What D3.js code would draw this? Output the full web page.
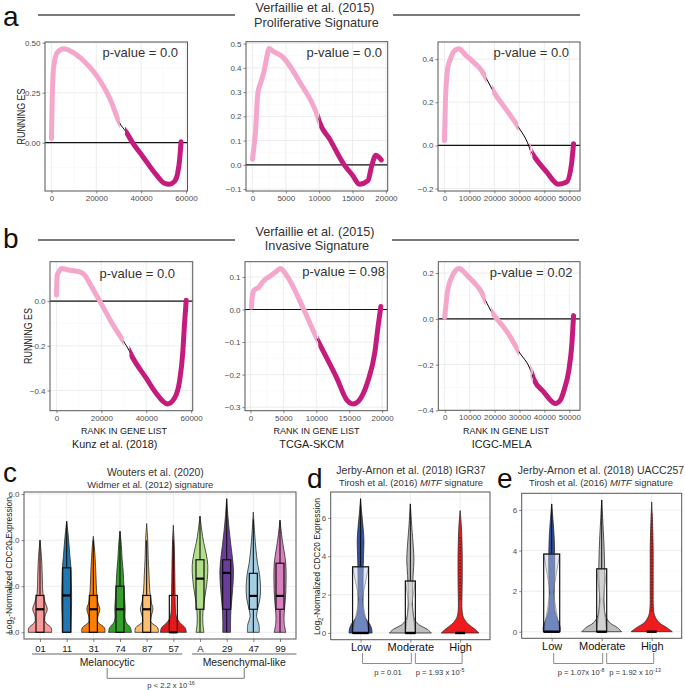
<!DOCTYPE html>
<html><head><meta charset="utf-8">
<script src="https://cdn.jsdelivr.net/npm/d3@7/dist/d3.min.js"></script>
<style>
html,body{margin:0;padding:0;background:#fff;}
svg text{font-family:"Liberation Sans",Arial,Helvetica,sans-serif;}
</style></head><body>
<svg id="fig" width="685" height="690" xmlns="http://www.w3.org/2000/svg"></svg>
<script>
// ================= DATA =================
// GSEA running enrichment score curves: [rank in gene list, running ES]
const kunzProliferative = [[0,0.02],[300,0.21],[1000,0.38],[2500,0.45],[5500,0.47],[9100,0.455],[14300,0.41],[21700,0.31],[26100,0.22],[30500,0.097],[33200,0.055],[36400,-0.003],[40800,-0.07],[46700,-0.16],[50400,-0.203],[52600,-0.208],[54800,-0.195],[56300,-0.153],[57300,-0.07],[57800,0.005]];
const tcgaProliferative = [[0,0.023],[240,0.078],[490,0.15],[640,0.228],[830,0.30],[1230,0.338],[1730,0.385],[2220,0.454],[2460,0.48],[3200,0.467],[4440,0.447],[7160,0.338],[9830,0.195],[10000,0.18],[11600,0.105],[13750,0],[15050,-0.045],[16000,-0.08],[17300,-0.065],[17860,-0.005],[18500,0.04],[19000,0.03],[19300,0.02]];
const icgcProliferative = [[0,0.023],[400,0.21],[1330,0.36],[2400,0.40],[3700,0.435],[5730,0.448],[8400,0.42],[11700,0.385],[14400,0.354],[16800,0.31],[19100,0.26],[25100,0.16],[29600,0.085],[33700,0],[34400,-0.023],[35300,-0.04],[40900,-0.123],[45600,-0.18],[48900,-0.17],[50900,-0.085],[51700,0.008]];
const kunzInvasive = [[0,0.027],[300,0.116],[1000,0.13],[2200,0.146],[5900,0.138],[10400,0.131],[12600,0.116],[14800,0.079],[19300,0],[25200,-0.107],[29900,-0.18],[32300,-0.22],[32900,-0.233],[40000,-0.345],[44400,-0.412],[49600,-0.46],[52600,-0.434],[54800,-0.36],[56300,-0.226],[57000,-0.107],[57800,0.004]];
const tcgaInvasive = [[150,0.007],[250,0.037],[500,0.058],[1260,0.068],[2000,0.088],[3000,0.103],[3800,0.115],[4540,0.126],[5550,0.103],[8100,0],[10080,-0.089],[10600,-0.11],[13100,-0.21],[14600,-0.277],[15600,-0.29],[16900,-0.267],[17900,-0.216],[18900,-0.13],[19400,-0.049],[19800,0.009]];
const icgcInvasive = [[0,0.007],[1070,0.116],[3070,0.188],[5730,0.22],[9070,0.188],[11730,0.159],[14400,0.123],[16400,0.08],[18700,0.032],[20400,0.007],[25100,-0.058],[29700,-0.142],[34700,-0.232],[35500,-0.258],[39700,-0.319],[44400,-0.37],[46400,-0.355],[48200,-0.3],[49700,-0.232],[51100,-0.1],[51700,0.014]];

// rank ranges of the highlighted gene sets: [from, to, class]
const kunzProliferativeSegs = [[0,30500,"pos"],[32800,57800,"neg"]];
const tcgaProliferativeSegs = [[0,9900,"pos"],[10000,19300,"neg"]];
const icgcProliferativeSegs = [[0,16800,"pos"],[19100,29600,"pos"],[34200,34700,"pos"],[35200,51700,"neg"]];
const kunzInvasiveSegs = [[0,29900,"pos"],[32500,57800,"neg"]];
const tcgaInvasiveSegs = [[0,10080,"pos"],[10300,19800,"neg"]];
const icgcInvasiveSegs = [[0,16400,"pos"],[18700,29700,"pos"],[34400,35000,"pos"],[35300,51700,"neg"]];

const rankTicks60k = [0,20000,40000,60000];
const rankTicks20k = [0,5000,10000,15000,20000];
const rankTicks50k = [0,10000,20000,30000,40000,50000];
const esTicksA1 = [0,0.25,0.5];
const esTicksA2 = [-0.1,0,0.1,0.2,0.3,0.4,0.5];
const esTicksA3 = [-0.2,0,0.2,0.4];
const esTicksB1 = [-0.4,-0.2,0];
const esTicksB2 = [-0.3,-0.2,-0.1,0,0.1];
const esTicksB3 = [-0.4,-0.2,0,0.2];
const pValuesProliferative = ["0.0","0.0","0.0"];
const pValuesInvasive = ["0.0","0.98","0.02"];
const datasets = ["Kunz et al. (2018)","TCGA-SKCM","ICGC-MELA"];

// Panel c: violins, [expression, relative density]
const cCategories = ["01","11","31","74","87","57","A","29","47","99"];
const cGroups = ["Melanocytic","Melanocytic","Melanocytic","Melanocytic","Melanocytic","Melanocytic","Mesenchymal-like","Mesenchymal-like","Mesenchymal-like","Mesenchymal-like"];
const cProfiles = [
  [[0,0.9],[0.2,0.85],[0.45,0.4],[0.7,0.38],[1.0,0.56],[1.3,0.4],[1.7,0.22],[2.3,0.18],[3,0.14],[3.5,0.08],[4.0,0]],
  [[0,0.34],[0.5,0.35],[1,0.37],[1.6,0.38],[2.2,0.36],[2.8,0.33],[3.3,0.25],[3.8,0.18],[4.3,0.1],[4.82,0]],
  [[0,0.9],[0.2,0.85],[0.45,0.35],[0.7,0.36],[1.0,0.5],[1.3,0.35],[1.8,0.25],[2.5,0.2],[3.2,0.14],[3.7,0.08],[4.17,0]],
  [[0,0.88],[0.2,0.8],[0.45,0.45],[0.7,0.38],[1.0,0.4],[1.5,0.35],[2,0.3],[2.6,0.25],[3.2,0.16],[3.8,0.1],[4.39,0]],
  [[0,0.9],[0.2,0.85],[0.45,0.32],[0.7,0.35],[1.0,0.48],[1.3,0.36],[1.8,0.24],[2.5,0.18],[3.2,0.12],[4,0.08],[4.72,0]],
  [[0,1.0],[0.2,0.9],[0.45,0.45],[0.7,0.22],[1.0,0.16],[1.5,0.14],[2.2,0.12],[3,0.1],[3.8,0.07],[4.65,0]],
  [[0,0.3],[0.4,0.22],[0.8,0.22],[1.2,0.28],[1.7,0.42],[2.3,0.56],[2.9,0.6],[3.4,0.48],[3.9,0.28],[4.4,0.14],[5.04,0]],
  [[0,0.3],[0.5,0.3],[1,0.33],[1.6,0.42],[2.2,0.5],[2.7,0.52],[3.2,0.45],[3.8,0.32],[4.4,0.2],[5,0.1],[5.8,0]],
  [[0,0.45],[0.3,0.44],[0.7,0.25],[1.0,0.33],[1.5,0.52],[2.0,0.55],[2.5,0.48],[3.0,0.32],[3.6,0.2],[4.3,0.1],[5.22,0]],
  [[0,0.45],[0.4,0.32],[0.8,0.32],[1.2,0.38],[1.8,0.45],[2.4,0.47],[3.0,0.44],[3.5,0.32],[4.0,0.18],[4.86,0]]
];
// [lower hinge, median, upper hinge]
const cBoxes = [[0,1.0,1.6],[0,1.6,2.8],[0,1.0,1.6],[0,1.0,2.0],[0,1.0,1.6],[0,0,1.6],[1.0,2.33,3.15],[1.0,2.58,3.15],[1.0,1.58,2.56],[1.0,1.58,3.0]];
const cColors = ["#FB9A99","#1F78B4","#FF7F00","#33A02C","#FDBF6F","#E31A1C","#B2DF8A","#6A3D9A","#A6CEE3","#DA7FBF"];
const cYTicks = [0,2,4,6];

// Panels d and e
const mitfCategories = ["Low","Moderate","High"];
const mitfColors = ["#2E4FA5","#BEBEBE","#EE1C1C"];
const dProfiles = [
  [[0,0.55],[0.25,0.52],[0.5,0.42],[0.8,0.22],[1.2,0.13],[2,0.12],[3,0.12],[4,0.14],[4.8,0.16],[5.5,0.12],[6.2,0.06],[7.0,0]],
  [[0,1.0],[0.2,0.8],[0.4,0.45],[0.7,0.2],[1.2,0.12],[2,0.1],[3,0.13],[3.8,0.17],[4.5,0.14],[5.5,0.07],[6.73,0]],
  [[0,0.9],[0.2,0.7],[0.45,0.4],[0.8,0.16],[1.2,0.09],[2,0.09],[3,0.1],[4,0.1],[5,0.08],[5.7,0.05],[6.38,0]]
];
const dBoxes = [[0,0,3.45],[0,0,2.71],[0,0,0]];
const dNotchWaist = [1.75,1.49,null];
const dOutlierRange = [null,null,[1.75,5.1]];
const eProfiles = [
  [[0,0.4],[0.25,0.4],[0.6,0.28],[1.0,0.16],[1.5,0.12],[2.2,0.12],[3,0.14],[3.8,0.14],[4.6,0.12],[5.4,0.07],[6.3,0]],
  [[0,0.95],[0.2,0.75],[0.45,0.38],[0.8,0.18],[1.3,0.12],[2,0.11],[2.8,0.14],[3.6,0.13],[4.5,0.1],[5.5,0.05],[6.5,0]],
  [[0,0.98],[0.2,0.72],[0.45,0.35],[0.8,0.14],[1.2,0.08],[2,0.07],[3,0.07],[4,0.07],[5,0.05],[6.4,0]]
];
const eBoxes = [[0,0,3.83],[0,0,3.1],[0,0,0]];
const eNotchWaist = [1.95,1.54,null];
const eOutlierRange = [null,null,[1.0,5.8]];
const mitfYTicks = [0,2,4,6];
const dPValues = [["0.01",null],["1.93 x 10","-5"]];
const ePValues = [["1.07x 10","-8"],["1.92 x 10","-13"]];

// ================= DRAWING =================
const svg = d3.select("#fig");
const PINK = "#F4A6CB", MAGENTA = "#C51B7D";
const GRID = "#EBEBEB", GRIDMINOR = "#F6F6F6", BORDER = "#555555", TICKTXT = "#4D4D4D";

function expand(ext, f = 0.05) { const e = (ext[1] - ext[0]) * f; return [ext[0] - e, ext[1] + e]; }
function minorOf(t) { const s = t[1] - t[0]; const o = []; for (let i = -1; i < t.length; i++) o.push(t[0] + s * (i + 0.5)); return o; }
let clipN = 0;
function clip(x, y, w, h) { const id = "clp" + (clipN++); svg.append("clipPath").attr("id", id).append("rect").attr("x", x).attr("y", y).attr("width", w).attr("height", h); return `url(#${id})`; }
function styleAxis(sel, fs, col) {
  sel.select(".domain").remove();
  sel.attr("font-size", fs);
  sel.selectAll(".tick line").attr("stroke", "#333").attr("stroke-width", 0.6);
  sel.selectAll(".tick text").attr("fill", col);
}
function text(x, y, s, o = {}) {
  const t = svg.append("text").attr("x", x).attr("y", y).text(s)
    .attr("font-size", o.size || 10).attr("fill", o.fill || "#222")
    .attr("text-anchor", o.anchor || "middle");
  if (o.style) t.attr("font-style", o.style);
  return t;
}

function gseaPanel(o) {
  const xd = expand(d3.extent(o.data, d => d[0]));
  const yd = expand(d3.extent(o.data.map(d => d[1]).concat([0])));
  const x = d3.scaleLinear().domain(xd).range([o.x0, o.x1]);
  const y = d3.scaleLinear().domain(yd).range([o.y1, o.y0]);
  const g = svg.append("g");
  const cp = clip(o.x0, o.y0, o.x1 - o.x0, o.y1 - o.y0);
  const inner = g.append("g").attr("clip-path", cp);
  const xmin = minorOf(o.xticks).filter(v => v > xd[0] && v < xd[1]);
  const ymin = minorOf(o.yticks).filter(v => v > yd[0] && v < yd[1]);
  inner.selectAll(".vm").data(xmin).join("line").attr("x1", d => x(d)).attr("x2", d => x(d)).attr("y1", o.y0).attr("y2", o.y1).attr("stroke", GRIDMINOR).attr("stroke-width", 0.6);
  inner.selectAll(".hm").data(ymin).join("line").attr("y1", d => y(d)).attr("y2", d => y(d)).attr("x1", o.x0).attr("x2", o.x1).attr("stroke", GRIDMINOR).attr("stroke-width", 0.6);
  inner.selectAll(".vM").data(o.xticks).join("line").attr("x1", d => x(d)).attr("x2", d => x(d)).attr("y1", o.y0).attr("y2", o.y1).attr("stroke", GRID).attr("stroke-width", 0.9);
  inner.selectAll(".hM").data(o.yticks).join("line").attr("y1", d => y(d)).attr("y2", d => y(d)).attr("x1", o.x0).attr("x2", o.x1).attr("stroke", GRID).attr("stroke-width", 0.9);
  inner.append("line").attr("x1", o.x0).attr("x2", o.x1).attr("y1", y(0)).attr("y2", y(0)).attr("stroke", "#111").attr("stroke-width", 1.2);
  const line = d3.line().x(d => x(d[0])).y(d => y(d[1])).curve(d3.curveMonotoneX);
  inner.append("path").attr("d", line(o.data)).attr("fill", "none").attr("stroke", "#000").attr("stroke-width", 1);
  const first = o.data[0][0], last = o.data[o.data.length - 1][0];
  o.segs.forEach(s => {
    const a = x(s[0]) - (s[0] <= first ? 4 : 0), b = x(s[1]) + (s[1] >= last ? 4 : 0);
    const sc = clip(a, o.y0 - 5, b - a, o.y1 - o.y0 + 10);
    inner.append("g").attr("clip-path", sc).append("path").attr("d", line(o.data))
      .attr("fill", "none").attr("stroke", s[2] === "pos" ? PINK : MAGENTA)
      .attr("stroke-width", 5).attr("stroke-linecap", "round").attr("stroke-linejoin", "round");
  });
  g.append("g").attr("transform", `translate(0,${o.y1})`)
    .call(d3.axisBottom(x).tickValues(o.xticks).tickFormat(d3.format("d")).tickSize(2.5).tickPadding(2))
    .call(s => styleAxis(s, 8, TICKTXT));
  g.append("g").attr("transform", `translate(${o.x0},0)`)
    .call(d3.axisLeft(y).tickValues(o.yticks).tickFormat(d3.format(o.yfmt)).tickSize(2.5).tickPadding(2))
    .call(s => styleAxis(s, 8, TICKTXT));
  g.append("rect").attr("x", o.x0).attr("y", o.y0).attr("width", o.x1 - o.x0).attr("height", o.y1 - o.y0)
    .attr("fill", "none").attr("stroke", BORDER).attr("stroke-width", 1);
  text(o.pvX, o.pvY, "p-value = " + o.pval, { size: 13, anchor: "end", fill: "#333" });
}

// ---- Row a ----
text(3, 26, "a", { size: 28, anchor: "start", fill: "#111" });
text(315, 12, "Verfaillie et al. (2015)", { size: 12.7, fill: "#333" });
text(316.5, 26.5, "Proliferative Signature", { size: 12.7, fill: "#333" });
svg.append("line").attr("x1", 38).attr("x2", 235).attr("y1", 15).attr("y2", 15).attr("stroke", "#4d4d4d").attr("stroke-width", 1.5);
svg.append("line").attr("x1", 393).attr("x2", 580).attr("y1", 15).attr("y2", 15).attr("stroke", "#4d4d4d").attr("stroke-width", 1.5);

gseaPanel({ data: kunzProliferative, segs: kunzProliferativeSegs, x0: 45, x1: 187.5, y0: 42, y1: 191, xticks: rankTicks60k, yticks: esTicksA1, yfmt: ".2f", pval: pValuesProliferative[0], pvX: 178, pvY: 57 });
gseaPanel({ data: tcgaProliferative, segs: tcgaProliferativeSegs, x0: 246, x1: 387.7, y0: 41.7, y1: 191, xticks: rankTicks20k, yticks: esTicksA2, yfmt: ".1f", pval: pValuesProliferative[1], pvX: 382, pvY: 57 });
gseaPanel({ data: icgcProliferative, segs: icgcProliferativeSegs, x0: 438, x1: 580, y0: 42, y1: 191, xticks: rankTicks50k, yticks: esTicksA3, yfmt: ".1f", pval: pValuesProliferative[2], pvX: 569, pvY: 57 });
svg.append("text").attr("transform", "translate(24.5,116.5) rotate(-90)").attr("text-anchor", "middle").attr("font-size", 10.5).attr("fill", "#222")
  .attr("textLength", 56).attr("lengthAdjust", "spacingAndGlyphs").text("RUNNING ES");

// ---- Row b ----
text(3, 248, "b", { size: 28, anchor: "start", fill: "#111" });
text(315, 235.5, "Verfaillie et al. (2015)", { size: 12.7, fill: "#333" });
text(317, 250, "Invasive Signature", { size: 12.7, fill: "#333" });
svg.append("line").attr("x1", 38).attr("x2", 235).attr("y1", 240).attr("y2", 240).attr("stroke", "#4d4d4d").attr("stroke-width", 1.5);
svg.append("line").attr("x1", 392).attr("x2", 579).attr("y1", 240).attr("y2", 240).attr("stroke", "#4d4d4d").attr("stroke-width", 1.5);

gseaPanel({ data: kunzInvasive, segs: kunzInvasiveSegs, x0: 50, x1: 192.7, y0: 261.7, y1: 410.7, xticks: rankTicks60k, yticks: esTicksB1, yfmt: ".1f", pval: pValuesInvasive[0], pvX: 175, pvY: 278 });
gseaPanel({ data: tcgaInvasive, segs: tcgaInvasiveSegs, x0: 245, x1: 387.3, y0: 261.7, y1: 410.7, xticks: rankTicks20k, yticks: esTicksB2, yfmt: ".1f", pval: pValuesInvasive[1], pvX: 385, pvY: 275.5 });
gseaPanel({ data: icgcInvasive, segs: icgcInvasiveSegs, x0: 438.3, x1: 580, y0: 261.7, y1: 410.3, xticks: rankTicks50k, yticks: esTicksB3, yfmt: ".1f", pval: pValuesInvasive[2], pvX: 572.5, pvY: 277 });
svg.append("text").attr("transform", "translate(32,336) rotate(-90)").attr("text-anchor", "middle").attr("font-size", 10.5).attr("fill", "#222")
  .attr("textLength", 56).attr("lengthAdjust", "spacingAndGlyphs").text("RUNNING ES");
[124, 316.5, 506].forEach(cx => text(cx, 433.5, "RANK IN GENE LIST", { size: 9, fill: "#222" }));
[114.7, 311.7, 501.7].forEach((cx, i) => text(cx, 448, datasets[i], { size: 10.8, fill: "#222" }));

// ---- Violin helpers ----
function violin(g, cx, y, prof, halfW, fill) {
  const area = d3.area().x0(d => cx - d[1] * halfW).x1(d => cx + d[1] * halfW).y(d => y(d[0])).curve(d3.curveCatmullRom.alpha(0.5));
  g.append("path").attr("d", area(prof)).attr("fill", fill).attr("stroke", "#2b2b2b").attr("stroke-width", 0.8);
}
function catGrid(g, x, y, cats, ticks, px0, px1, py0, py1) {
  const yd = y.domain();
  const ym = minorOf(ticks).filter(v => v > yd[0] && v < yd[1]);
  g.selectAll(".hm").data(ym).join("line").attr("x1", px0).attr("x2", px1).attr("y1", d => y(d)).attr("y2", d => y(d)).attr("stroke", GRIDMINOR).attr("stroke-width", 0.6);
  g.selectAll(".hM").data(ticks).join("line").attr("x1", px0).attr("x2", px1).attr("y1", d => y(d)).attr("y2", d => y(d)).attr("stroke", GRID).attr("stroke-width", 0.9);
  g.selectAll(".vM").data(cats).join("line").attr("x1", d => x(d)).attr("x2", d => x(d)).attr("y1", py0).attr("y2", py1).attr("stroke", GRID).attr("stroke-width", 0.9);
}
function yLabel(xb, cy) {
  const t = svg.append("text").attr("transform", `translate(${xb},${cy}) rotate(-90)`).attr("text-anchor", "middle")
    .attr("font-size", 9.6).attr("fill", "#222").attr("textLength", 137).attr("lengthAdjust", "spacingAndGlyphs");
  t.append("tspan").text("Log");
  t.append("tspan").text("2").attr("font-size", 6.5).attr("dy", 2.5);
  t.append("tspan").text("-Normalized CDC20 Expression").attr("dy", -2.5);
}
function bracket(xa, xb, yt, yb, col) {
  svg.append("path").attr("d", `M${xa},${yt}V${yb}H${xb}V${yt}`).attr("fill", "none").attr("stroke", col || "#8c8c8c").attr("stroke-width", 1);
}
function pText(cx, y, base, sup, prefix) {
  const t = svg.append("text").attr("x", cx).attr("y", y).attr("text-anchor", "middle").attr("font-size", 7.6).attr("fill", "#333");
  t.append("tspan").text((prefix || "p = ") + base);
  if (sup) t.append("tspan").text(sup).attr("font-size", 5.2).attr("dy", -3);
}

// ---- Panel c ----
{
  const px0 = 24, px1 = 296, py0 = 492, py1 = 639;
  const x = d3.scalePoint().domain(cCategories).range([px0, px1]).padding(0.6);
  const ymax = d3.max(cProfiles, p => d3.max(p, d => d[0]));
  const y = d3.scaleLinear().domain(expand([0, ymax])).range([py1, py0]);
  const g = svg.append("g");
  catGrid(g, x, y, cCategories, cYTicks, px0, px1, py0, py1);
  cCategories.forEach((c, i) => {
    const cx = x(c);
    violin(g, cx, y, cProfiles[i], 13, cColors[i]);
    const [q1, med, q3] = cBoxes[i];
    const tip = d3.max(cProfiles[i], d => d[0]);
    const hi = Math.min(tip, q3 + 1.5 * (q3 - q1));
    g.append("line").attr("x1", cx).attr("x2", cx).attr("y1", y(q3)).attr("y2", y(hi)).attr("stroke", "#111").attr("stroke-width", 1.1);
    if (q1 > 0) g.append("line").attr("x1", cx).attr("x2", cx).attr("y1", y(q1)).attr("y2", y(0)).attr("stroke", "#111").attr("stroke-width", 1.1);
    g.append("rect").attr("x", cx - 4).attr("y", y(q3)).attr("width", 8).attr("height", Math.max(0.5, y(q1) - y(q3)))
      .attr("fill", "none").attr("stroke", "#111").attr("stroke-width", 1.2);
    g.append("line").attr("x1", cx - 4).attr("x2", cx + 4).attr("y1", y(med)).attr("y2", y(med)).attr("stroke", "#000").attr("stroke-width", 2.2);
  });
  g.append("g").attr("transform", `translate(0,${py1})`).call(d3.axisBottom(x).tickSize(3).tickPadding(3.5)).call(s => styleAxis(s, 9.5, "#1a1a1a"));
  g.append("g").attr("transform", `translate(${px0},0)`).call(d3.axisLeft(y).tickValues(cYTicks).tickSize(2.5).tickPadding(2)).call(s => styleAxis(s, 8, TICKTXT));
  g.append("rect").attr("x", px0).attr("y", py0).attr("width", px1 - px0).attr("height", py1 - py0).attr("fill", "none").attr("stroke", BORDER).attr("stroke-width", 1);

  text(3, 482, "c", { size: 28, anchor: "start", fill: "#111" });
  text(155.3, 476, "Wouters et al. (2020)", { size: 10.4, fill: "#333" });
  text(150.3, 487.5, "Widmer et al. (2012) signature", { size: 9.4, fill: "#333" });
  yLabel(12, 565.5);
  const groups = Array.from(new Set(cGroups));
  const ext = groups.map(gname => {
    const cs = cCategories.filter((c, i) => cGroups[i] === gname);
    return [x(cs[0]) - 8, x(cs[cs.length - 1]) + (gname === groups[groups.length - 1] ? 16.5 : 9)];
  });
  ext.forEach((e, i) => {
    svg.append("line").attr("x1", e[0]).attr("x2", e[1]).attr("y1", 654).attr("y2", 654).attr("stroke", "#9a9a9a").attr("stroke-width", 1.3);
    text((e[0] + e[1]) / 2, 665.5, groups[i], { size: 10.4, fill: "#222" });
  });
  bracket((ext[0][0] + ext[0][1]) / 2, (ext[1][0] + ext[1][1]) / 2, 668, 678.3, "#777");
  pText(171, 688, "2.2 x 10", "-16", "p < ");
}

// ---- Panels d / e ----
function mitfPanel(o) {
  const x = d3.scalePoint().domain(mitfCategories).range([o.px0, o.px1]).padding(0.6);
  const ymax = d3.max(o.profiles, p => d3.max(p, d => d[0]));
  const y = d3.scaleLinear().domain(expand([0, ymax])).range([o.py1, o.py0]);
  const g = svg.append("g");
  catGrid(g, x, y, mitfCategories, mitfYTicks, o.px0, o.px1, o.py0, o.py1);
  const boxHalf = [8, 5, 5];
  mitfCategories.forEach((c, i) => {
    const cx = x(c);
    violin(g, cx, y, o.profiles[i], 21, mitfColors[i]);
    const [q1, med, q3] = o.boxes[i];
    const tip = d3.max(o.profiles[i], d => d[0]);
    const hw = boxHalf[i];
    if (q3 > q1) {
      const hi = Math.min(tip, q3 + 1.5 * (q3 - q1));
      g.append("line").attr("x1", cx).attr("x2", cx).attr("y1", y(q3)).attr("y2", y(hi)).attr("stroke", "#111").attr("stroke-width", 1);
      const wy = y(o.waist[i]);
      const pts = [[cx - hw, y(q3)], [cx + hw, y(q3)], [cx + 1.5, wy], [cx + hw, y(q1)], [cx - hw, y(q1)], [cx - 1.5, wy]];
      g.append("path").attr("d", "M" + pts.join("L") + "Z").attr("fill", d3.interpolateRgb(mitfColors[i], "#fff")(0.7))
        .attr("fill-opacity", 0.45).attr("stroke", "#777").attr("stroke-width", 0.6);
      g.append("rect").attr("x", cx - hw).attr("y", y(q3)).attr("width", 2 * hw).attr("height", y(q1) - y(q3))
        .attr("fill", "none").attr("stroke", "#111").attr("stroke-width", 1.2);
    }
    if (o.outliers[i]) {
      const r = o.outliers[i];
      g.append("line").attr("x1", cx).attr("x2", cx).attr("y1", y(r[0])).attr("y2", y(r[1]))
        .attr("stroke", "#8B1010").attr("stroke-width", 1.6).attr("stroke-dasharray", "1.6,1.6");
    }
    g.append("line").attr("x1", cx - hw).attr("x2", cx + hw).attr("y1", y(med)).attr("y2", y(med)).attr("stroke", "#000").attr("stroke-width", 2.4);
  });
  g.append("g").attr("transform", `translate(0,${o.py1})`).call(d3.axisBottom(x).tickSize(3).tickPadding(1)).call(s => styleAxis(s, 11, "#111"));
  g.append("g").attr("transform", `translate(${o.px0},0)`).call(d3.axisLeft(y).tickValues(mitfYTicks).tickSize(2.5).tickPadding(2)).call(s => styleAxis(s, 8, TICKTXT));
  g.append("rect").attr("x", o.px0).attr("y", o.py0).attr("width", o.px1 - o.px0).attr("height", o.py1 - o.py0).attr("fill", "none").attr("stroke", BORDER).attr("stroke-width", 1);
  text(o.letterX, 488, o.letter, { size: 28, anchor: "start", fill: "#111" });
  text(o.titleX, 473.5, o.title, { size: 10.5, fill: "#333" });
  const t2 = svg.append("text").attr("x", o.titleX).attr("y", 485.5).attr("text-anchor", "middle").attr("font-size", 9.4).attr("fill", "#333");
  t2.append("tspan").text("Tirosh et al. (2016) ");
  t2.append("tspan").text("MITF").attr("font-style", "italic");
  t2.append("tspan").text(" signature");
  const xs = mitfCategories.map(c => x(c));
  bracket(xs[0] + 2, xs[1] + 1, 653, 663.5);
  bracket(xs[1] + 5, xs[2] + 2, 653, 663.5);
  pText(o.pX[0], 674.5, o.pvals[0][0], o.pvals[0][1]);
  pText(o.pX[1], 674.5, o.pvals[1][0], o.pvals[1][1]);
}
mitfPanel({ px0: 330.7, px1: 490, py0: 492, py1: 639.7, profiles: dProfiles, boxes: dBoxes, waist: dNotchWaist, outliers: dOutlierRange,
  letter: "d", letterX: 307, title: "Jerby-Arnon et al. (2018) IGR37", titleX: 411, pvals: dPValues, pX: [388, 440] });
yLabel(320, 566.5);
mitfPanel({ px0: 521.7, px1: 681.7, py0: 493.3, py1: 638.3, profiles: eProfiles, boxes: eBoxes, waist: eNotchWaist, outliers: eOutlierRange,
  letter: "e", letterX: 497, title: "Jerby-Arnon et al. (2018) UACC257", titleX: 601, pvals: ePValues, pX: [581, 635] });
</script>
</body></html>
